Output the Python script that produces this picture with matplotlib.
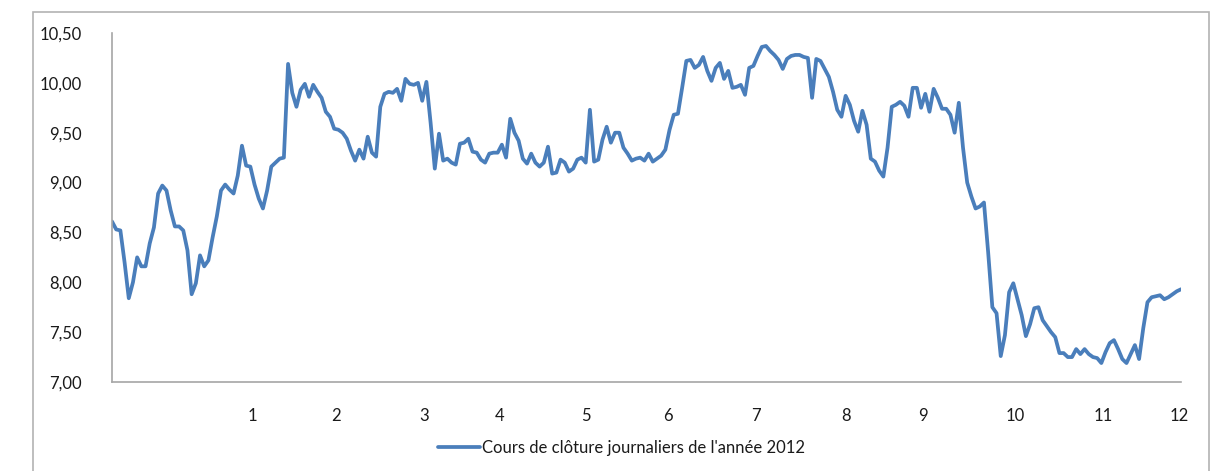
import matplotlib
matplotlib.use("Agg")
import matplotlib.pyplot as plt
from matplotlib.patches import Rectangle
from matplotlib.ticker import FuncFormatter

# Daily closing prices (2012)
close_prices = [
    8.61, 8.53, 8.52, 8.20, 7.84, 8.00, 8.25, 8.16, 8.16, 8.39,
    8.55, 8.89, 8.97, 8.92, 8.72, 8.56, 8.56, 8.52, 8.32, 7.88,
    7.99, 8.27, 8.16, 8.22, 8.45, 8.66, 8.92, 8.98, 8.93, 8.89,
    9.07, 9.37, 9.17, 9.16, 8.98, 8.84, 8.74, 8.92, 9.16, 9.20,
    9.24, 9.25, 10.19, 9.90, 9.76, 9.93, 9.99, 9.86, 9.98, 9.91,
    9.85, 9.71, 9.66, 9.54, 9.53, 9.50, 9.44, 9.32, 9.22, 9.33,
    9.24, 9.46, 9.30, 9.26, 9.76, 9.89, 9.91, 9.90, 9.94, 9.82,
    10.04, 9.99, 9.98, 10.00, 9.82, 10.01, 9.60, 9.14, 9.49, 9.22,
    9.24, 9.20, 9.18, 9.39, 9.40, 9.44, 9.31, 9.30, 9.23, 9.20,
    9.29, 9.30, 9.30, 9.38, 9.25, 9.64, 9.50, 9.42, 9.24, 9.19,
    9.29, 9.20, 9.16, 9.20, 9.36, 9.09, 9.10, 9.23, 9.20, 9.11,
    9.14, 9.23, 9.25, 9.20, 9.73, 9.21, 9.23, 9.43, 9.56, 9.40,
    9.50, 9.50, 9.35, 9.29, 9.22, 9.24, 9.25, 9.22, 9.29, 9.21,
    9.24, 9.27, 9.33, 9.53, 9.68, 9.69, 9.95, 10.22, 10.23, 10.15,
    10.18, 10.26, 10.12, 10.02, 10.15, 10.20, 10.04, 10.12, 9.95, 9.96,
    9.98, 9.88, 10.15, 10.17, 10.27, 10.36, 10.37, 10.32, 10.28, 10.23,
    10.14, 10.24, 10.27, 10.28, 10.28, 10.26, 10.25, 9.85, 10.24, 10.22,
    10.14, 10.06, 9.91, 9.73, 9.66, 9.87, 9.78, 9.62, 9.51, 9.72,
    9.58, 9.24, 9.21, 9.12, 9.06, 9.35, 9.76, 9.78, 9.81, 9.77,
    9.66, 9.95, 9.95, 9.75, 9.89, 9.71, 9.94, 9.85, 9.74, 9.74,
    9.68, 9.50, 9.80, 9.35, 9.00, 8.86, 8.74, 8.76, 8.80, 8.30,
    7.75, 7.69, 7.26, 7.47, 7.90, 7.99, 7.83, 7.67, 7.46, 7.58,
    7.74, 7.75, 7.62, 7.56, 7.50, 7.45, 7.29, 7.29, 7.25, 7.25,
    7.33, 7.28, 7.33, 7.28, 7.25, 7.24, 7.19, 7.30, 7.39, 7.42,
    7.33, 7.23, 7.19, 7.28, 7.37, 7.23, 7.54, 7.80, 7.85, 7.86,
    7.87, 7.83, 7.85, 7.88, 7.91, 7.93,
]
days = list(range(len(close_prices)))

# Month labels and the trading day where each label sits
month_labels = ["1", "2", "3", "4", "5", "6", "7", "8", "9", "10", "11", "12"]
month_label_days = [33.5, 53.5, 74.5, 92.5, 113, 132.5, 153.5, 175, 193.5, 215.5, 236.5, 254.5]

y_ticks = [7.0, 7.5, 8.0, 8.5, 9.0, 9.5, 10.0, 10.5]
series_label = "Cours de clôture journaliers de l'année 2012"

W, H = 1220, 471
fig = plt.figure(figsize=(W / 100, H / 100), dpi=100)
fig.patch.set_facecolor("white")

# Outer chart border
fig.patches.append(Rectangle((33 / W, -0.02), (1209 - 33) / W, (471 - 12) / H + 0.02,
                             transform=fig.transFigure, fill=False,
                             edgecolor="#b3b3b3", linewidth=1.2))

ax = fig.add_axes([112 / W, 1 - 382 / H, (1181 - 112) / W, (382 - 33) / H])
line, = ax.plot(days, close_prices, color="#4a7ebb", linewidth=2.7,
                solid_joinstyle="round", solid_capstyle="round", label=series_label)

ax.set_xlim(0, len(close_prices) - 1)
ax.set_ylim(7.0, 10.5)
ax.set_yticks(y_ticks)
ax.yaxis.set_major_formatter(FuncFormatter(lambda v, p: f"{v:.2f}".replace(".", ",")))
ax.set_xticks(month_label_days)
ax.set_xticklabels(month_labels)

for s in ["top", "right"]:
    ax.spines[s].set_visible(False)
for s in ["left", "bottom"]:
    ax.spines[s].set_color("#a6a6a6")
    ax.spines[s].set_linewidth(1.2)

font = "Lato"
ax.tick_params(axis="both", length=0, labelsize=12, labelcolor="#1a1a1a")
ax.tick_params(axis="y", pad=22)
ax.tick_params(axis="x", pad=19)
for lab in ax.get_xticklabels() + ax.get_yticklabels():
    lab.set_fontfamily(font)

leg = fig.legend(handles=[line], loc="center",
                 bbox_to_anchor=((441 + 802) / 2 / W, 1 - 448 / H),
                 frameon=False, handlelength=2.5, handletextpad=0.12,
                 prop={"family": font, "size": 12})
for t in leg.get_texts():
    t.set_color("#1a1a1a")

fig.savefig("out.png", dpi=100, facecolor="white")
